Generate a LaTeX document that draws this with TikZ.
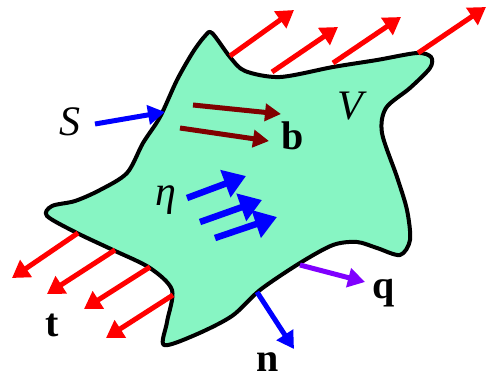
\documentclass[tikz,border=0pt]{standalone}
\usepackage{fontspec}
\setmainfont{Liberation Serif}
\usetikzlibrary{arrows.meta}
\definecolor{mint}{RGB}{135,245,195}
\definecolor{darkred}{RGB}{128,0,0}
\definecolor{violet2}{RGB}{128,0,255}
\tikzset{
  redarr/.style={draw=red,line width=5pt,-{Triangle[width=20pt,length=17pt]}},
  brarr/.style={draw=darkred,line width=5pt,-{Triangle[width=17pt,length=16pt]}},
  bluearr/.style={draw=blue,line width=5pt,-{Triangle[width=19pt,length=17pt]}},
  etaarr/.style={draw=blue,line width=6.5pt,-{Triangle[width=28pt,length=22pt]}},
  purarr/.style={draw=violet2,line width=5pt,-{Triangle[width=19pt,length=17pt]}},
  lab/.style={inner sep=0pt,font=\fontsize{42}{46}\selectfont},
  blab/.style={inner sep=0pt,font=\fontsize{40}{44}\selectfont\bfseries},
}
\begin{document}
\begin{tikzpicture}[x=1pt,y=-1pt]
\useasboundingbox (0,0) rectangle (499,384);
% body
\draw[fill=mint,line width=4pt,line join=round]
  plot[smooth cycle,tension=0.5] coordinates {
  (212,33) (230,57) (245,71) (280,77) (333,67) (377,60) (417,53) (431,57)
  (430,68) (410,88) (386,108) (382,133) (397,177) (407,210) (410,240) (400,255)
  (377,248) (357,242) (333,245) (300,263) (260,290) (232,316) (195,335) (164,345)
  (167,322) (172,290) (150,268) (113,250) (77,233) (47,216) (52,206) (75,201)
  (100,190) (127,173) (143,143) (160,117) (177,80) (193,52) (205,36)};
% coordinates
\coordinate (ta1) at (230,56);  \coordinate (tb1) at (294,10);
\coordinate (ta2) at (272,72);  \coordinate (tb2) at (338,27);
\coordinate (ta3) at (333,63);  \coordinate (tb3) at (401,17);
\coordinate (ta4) at (418,53);  \coordinate (tb4) at (486,7);
\coordinate (la1) at (78,233);  \coordinate (lb1) at (12,278);
\coordinate (la2) at (115,250); \coordinate (lb2) at (47,294);
\coordinate (la3) at (150,267); \coordinate (lb3) at (84,309);
\coordinate (la4) at (173,295); \coordinate (lb4) at (106,338);
\coordinate (ba1) at (193,105); \coordinate (bb1) at (281,114);
\coordinate (ba2) at (180,128); \coordinate (bb2) at (269,141);
\coordinate (ea1) at (187,198); \coordinate (eb1) at (246,176);
\coordinate (ea2) at (200,222); \coordinate (eb2) at (262,200);
\coordinate (ea3) at (215,238); \coordinate (eb3) at (277,217);
\coordinate (sa) at (95,124);   \coordinate (sb) at (165,112);
\coordinate (qa) at (300,265);  \coordinate (qb) at (365,282);
\coordinate (na) at (257,292);  \coordinate (nb) at (294,349);
% arrows
\foreach \i in {1,...,4} {\draw[redarr] (ta\i) -- (tb\i);}
\foreach \i in {1,...,4} {\draw[redarr] (la\i) -- (lb\i);}
\foreach \i in {1,2} {\draw[brarr] (ba\i) -- (bb\i);}
\foreach \i in {1,2,3} {\draw[etaarr] (ea\i) -- (eb\i);}
\draw[bluearr] (sa) -- (sb);
\draw[purarr] (qa) -- (qb);
\draw[bluearr] (na) -- (nb);
% labels
\node[lab] (S) at (70,122) {\itshape S};
\node[lab] (V) at (350,106) {\itshape V};
\node[lab] (eta) at (166,200) {\itshape η};
\node[blab] (b) at (293,136) {b};
\node[blab] (t) at (52,325) {t};
\node[blab] (q) at (384,293) {q};
\node[blab] (n) at (268,362) {n};
\end{tikzpicture}
\end{document}
